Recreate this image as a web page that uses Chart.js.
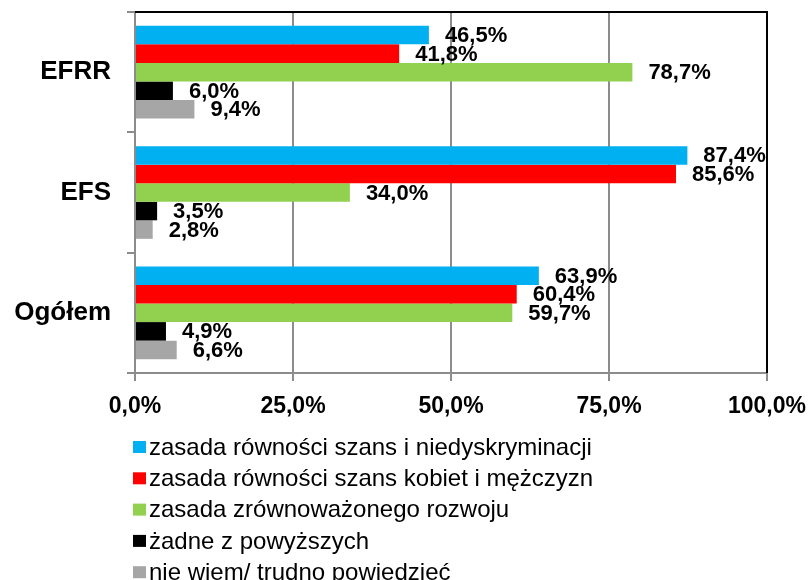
<!DOCTYPE html>
<html lang="pl">
<head>
    <meta charset="UTF-8">
    <title>Zasady horyzontalne</title>
    <script src="https://cdn.jsdelivr.net/npm/chart.js"></script>
    <style>
        body { margin: 0; background: #fff; }
        #wrap { width: 809px; height: 580px; }
    </style>
</head>
<body>
    <div id="wrap"><canvas id="chart" width="809" height="580"></canvas></div>

    <script>
        const categories = ['EFRR', 'EFS', 'Ogółem'];
        const seriesNames = [
            'zasada równości szans i niedyskryminacji',
            'zasada równości szans kobiet i mężczyzn',
            'zasada zrównoważonego rozwoju',
            'żadne z powyższych',
            'nie wiem/ trudno powiedzieć'
        ];
        const seriesColors = ['#00B0F0', '#FF0000', '#92D050', '#000000', '#A6A6A6'];
        const rownoscSzans = [46.5, 87.4, 63.9];
        const kobietMezczyzn = [41.8, 85.6, 60.4];
        const zrownowazony = [78.7, 34.0, 59.7];
        const zadne = [6.0, 3.5, 4.9];
        const nieWiem = [9.4, 2.8, 6.6];
        const xTickLabels = ['0,0%', '25,0%', '50,0%', '75,0%', '100,0%'];

        const FONT = "'Liberation Sans', Arial, sans-serif";
        const GRID = '#8c8c8c';

        const fmt = v => v.toFixed(1).replace('.', ',') + '%';

        // value labels next to each bar
        const barLabels = {
            id: 'barLabels',
            afterDatasetsDraw(chart) {
                const ctx = chart.ctx;
                ctx.save();
                ctx.font = 'bold 22px ' + FONT;
                ctx.fillStyle = '#000';
                ctx.textAlign = 'left';
                ctx.textBaseline = 'middle';
                chart.data.datasets.forEach((ds, i) => {
                    chart.getDatasetMeta(i).data.forEach((bar, j) => {
                        ctx.fillText(fmt(ds.data[j]), bar.x + 16, bar.y + 1);
                    });
                });
                ctx.restore();
            }
        };

        // black top/right frame + legend as a single column
        const frameAndLegend = {
            id: 'frameAndLegend',
            afterDraw(chart) {
                const ctx = chart.ctx;
                const a = chart.chartArea;
                ctx.save();
                ctx.strokeStyle = '#000';
                ctx.lineWidth = 2;
                ctx.beginPath();
                ctx.moveTo(a.left, a.top);
                ctx.lineTo(a.right, a.top);
                ctx.lineTo(a.right, a.bottom);
                ctx.stroke();

                ctx.font = '24px ' + FONT;
                ctx.textAlign = 'left';
                ctx.textBaseline = 'middle';
                chart.data.datasets.forEach((ds, i) => {
                    const y = 447 + i * 31.3;
                    ctx.fillStyle = ds.backgroundColor;
                    ctx.fillRect(133, y - 6, 13, 12);
                    ctx.fillStyle = '#000';
                    ctx.fillText(ds.label, 149, y + 1);
                });
                ctx.restore();
            }
        };

        const noPad = s => { s.paddingTop = 0; s.paddingBottom = 0; s.paddingLeft = 0; s.paddingRight = 0; };

        const values = [rownoscSzans, kobietMezczyzn, zrownowazony, zadne, nieWiem];

        new Chart(document.getElementById('chart'), {
            type: 'bar',
            data: {
                labels: categories,
                datasets: values.map((d, i) => ({
                    label: seriesNames[i],
                    data: d,
                    backgroundColor: seriesColors[i],
                    categoryPercentage: 0.77,
                    barPercentage: 1
                }))
            },
            options: {
                indexAxis: 'y',
                responsive: false,
                animation: false,
                layout: { padding: { top: 12, right: 42, bottom: 162, left: 0 } },
                plugins: {
                    legend: { display: false },
                    tooltip: { enabled: false }
                },
                scales: {
                    x: {
                        min: 0,
                        max: 100,
                        ticks: {
                            stepSize: 25,
                            padding: 12,
                            color: '#000',
                            font: { family: FONT, size: 23, weight: 'bold' },
                            callback: (v, i) => xTickLabels[i]
                        },
                        grid: { color: GRID, lineWidth: 2, tickLength: 8 },
                        border: { color: GRID, width: 2 },
                        afterFit: s => { s.height = 45; noPad(s); }
                    },
                    y: {
                        ticks: {
                            padding: 16,
                            color: '#000',
                            font: { family: FONT, size: 26, weight: 'bold' }
                        },
                        grid: { offset: true, drawOnChartArea: false, color: GRID, lineWidth: 2, tickLength: 8 },
                        border: { color: GRID, width: 2 },
                        afterFit: s => { s.width = 135; noPad(s); }
                    }
                }
            },
            plugins: [barLabels, frameAndLegend]
        });
    </script>
</body>
</html>
